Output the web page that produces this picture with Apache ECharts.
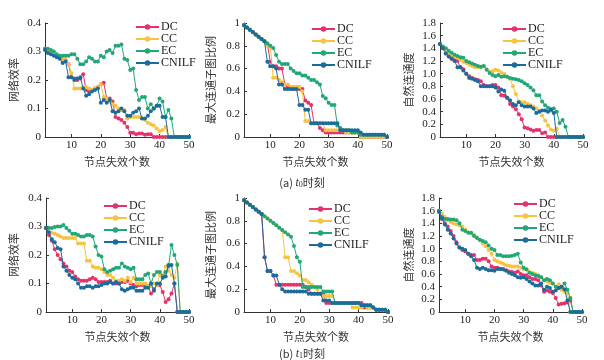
<!DOCTYPE html>
<html><head><meta charset="utf-8">
<script src="https://cdn.jsdelivr.net/npm/echarts@6/dist/echarts.min.js"></script>
<style>html,body{margin:0;padding:0;background:#fff}#c{width:604px;height:360px}</style>
</head><body><div id="c"></div>
<script>
const nodes = [1,2,3,4,5,6,7,8,9,10,11,12,13,14,15,16,17,18,19,20,21,22,23,24,25,26,27,28,29,30,31,32,33,34,35,36,37,38,39,40,41,42,43,44,45,46,47,48,49,50];
const xTicks = [10,20,30,40,50];
const seriesNames = ['DC','CC','EC','CNILF'];
const yNames = ['网络效率','最大连通子图比例','自然连通度','网络效率','最大连通子图比例','自然连通度'];
const captions = ['(a) {i|t}{s|0}时刻','(b) {i|t}{s|1}时刻'];

// (a) t0 — network efficiency
const dc1 = [0.31,0.30,0.295,0.29,0.285,0.28,0.275,0.27,0.255,0.21, 0.205,0.20,0.205,0.22,0.165,0.16,0.165,0.17,0.175,0.185, 0.19,0.135,0.135,0.125,0.07,0.065,0.06,0.05,0.035,0.015, 0.015,0.01,0.012,0.012,0.008,0.01,0.01,0,0,0, 0,0,0,0,0,0,0,0,0,0];
const cc1 = [0.31,0.30,0.295,0.29,0.285,0.28,0.275,0.27,0.255,0.225, 0.17,0.17,0.17,0.175,0.175,0.17,0.165,0.17,0.175,0.185, 0.14,0.135,0.125,0.115,0.11,0.10,0.095,0.095,0.065,0.07, 0.07,0.07,0.07,0.065,0.06,0.05,0.045,0.04,0.03,0.02, 0.025,0.035,0,0,0,0,0,0,0,0];
const ec1 = [0.31,0.31,0.305,0.30,0.29,0.285,0.285,0.285,0.285,0.29, 0.29,0.275,0.255,0.255,0.265,0.28,0.275,0.265,0.265,0.285, 0.28,0.30,0.305,0.295,0.32,0.32,0.325,0.275,0.27,0.235, 0.24,0.165,0.13,0.14,0.14,0.10,0.115,0.10,0.11,0.135, 0.125,0.07,0.095,0.065,0,0,0,0,0,0];
const cn1 = [0.305,0.295,0.29,0.285,0.28,0.275,0.26,0.265,0.21,0.21, 0.20,0.205,0.21,0.17,0.145,0.15,0.16,0.165,0.17,0.12, 0.13,0.12,0.13,0.09,0.085,0.09,0.10,0.09,0.075,0.075, 0.085,0.09,0.10,0.065,0.065,0.075,0.09,0.10,0.11,0.11, 0.07,0.07,0,0,0,0,0,0,0,0];
// (a) t0 — largest connected component ratio
const dc2 = [0.98,0.96,0.94,0.92,0.90,0.88,0.86,0.84,0.82,0.66, 0.62,0.62,0.60,0.60,0.46,0.44,0.42,0.42,0.42,0.42, 0.42,0.32,0.30,0.28,0.12,0.12,0.08,0.06,0.04,0.04, 0.04,0.04,0.04,0.04,0.04,0.04,0.04,0.04,0.04,0.04, 0,0,0,0,0,0,0,0,0,0];
const cc2 = [0.98,0.96,0.94,0.92,0.90,0.88,0.86,0.84,0.80,0.80, 0.52,0.52,0.50,0.48,0.46,0.46,0.44,0.44,0.44,0.44, 0.40,0.14,0.14,0.12,0.12,0.12,0.12,0.12,0.06,0.06, 0.06,0.06,0.06,0.06,0.06,0.04,0.04,0.04,0.04,0.04, 0,0,0,0,0,0,0,0,0,0];
const ec2 = [0.98,0.96,0.94,0.92,0.90,0.88,0.86,0.84,0.82,0.80, 0.78,0.72,0.66,0.64,0.64,0.64,0.60,0.58,0.56,0.56, 0.54,0.54,0.52,0.50,0.50,0.48,0.46,0.36,0.34,0.30, 0.28,0.28,0.10,0.08,0.06,0.06,0.06,0.04,0.04,0.04, 0.02,0.02,0.02,0.02,0.02,0.02,0.02,0.02,0.02,0];
const cn2 = [0.98,0.96,0.94,0.92,0.90,0.88,0.86,0.84,0.66,0.62, 0.62,0.60,0.46,0.46,0.42,0.42,0.42,0.42,0.42,0.28, 0.28,0.24,0.24,0.12,0.12,0.12,0.12,0.12,0.12,0.12, 0.12,0.12,0.12,0.06,0.06,0.06,0.06,0.06,0.06,0.06, 0.04,0.02,0.02,0.02,0.02,0.02,0.02,0.02,0.02,0];
// (a) t0 — natural connectivity
const dc3 = [1.47,1.40,1.32,1.27,1.23,1.21,1.20,1.10,1.07,1.00, 0.96,0.93,0.91,0.90,0.88,0.82,0.80,0.80,0.82,0.82, 0.78,0.66,0.65,0.62,0.52,0.48,0.44,0.36,0.28,0.15, 0.14,0.12,0.10,0.11,0.11,0.06,0.07,0,0,0, 0,0,0,0,0,0,0,0,0,0];
const cc3 = [1.47,1.41,1.36,1.32,1.29,1.27,1.25,1.22,1.19,1.17, 1.14,1.12,1.10,1.10,1.10,1.12,1.07,1.03,1.04,1.06, 1.05,1.02,1.00,0.95,0.92,0.80,0.68,0.56,0.55,0.55, 0.52,0.50,0.48,0.45,0.42,0.34,0.26,0.18,0.12,0.10, 0.13,0,0,0,0,0,0,0,0,0];
const ec3 = [1.47,1.43,1.40,1.36,1.33,1.30,1.28,1.26,1.25,1.20, 1.18,1.16,1.14,1.12,1.11,1.12,1.06,1.01,0.98,0.96, 0.98,0.95,0.96,0.95,0.93,0.92,0.91,0.90,0.88,0.85, 0.82,0.78,0.74,0.66,0.66,0.56,0.50,0.46,0.42,0.45, 0.40,0.22,0.27,0.16,0,0,0,0,0,0];
const cn3 = [1.47,1.40,1.32,1.27,1.24,1.20,1.10,1.10,1.05,1.00, 0.93,0.92,0.90,0.88,0.80,0.80,0.80,0.80,0.80,0.78, 0.72,0.75,0.73,0.62,0.58,0.52,0.50,0.55,0.50,0.48, 0.48,0.48,0.45,0.38,0.40,0.42,0.42,0.40,0.44,0.38, 0,0,0,0,0,0,0,0,0,0];
// (b) t1 — network efficiency
const dc4 = [0.295,0.27,0.25,0.22,0.20,0.185,0.17,0.16,0.145,0.14, 0.125,0.115,0.11,0.11,0.11,0.115,0.12,0.115,0.105,0.105, 0.105,0.105,0.11,0.10,0.10,0.10,0.105,0.105,0.11,0.10, 0.095,0.09,0.095,0.095,0.095,0.09,0.065,0.08,0.095,0.095, 0.07,0.035,0.045,0.065,0.10,0,0,0,0,0];
const cc4 = [0.295,0.28,0.278,0.275,0.27,0.265,0.26,0.26,0.26,0.26, 0.26,0.24,0.24,0.24,0.18,0.18,0.16,0.155,0.155,0.15, 0.14,0.13,0.13,0.12,0.11,0.11,0.115,0.11,0.12,0.105, 0.12,0.10,0.10,0.10,0.10,0.09,0.09,0.10,0.095,0.13, 0.13,0.16,0.145,0.13,0.12,0.17,0,0,0,0];
const ec4 = [0.295,0.295,0.295,0.298,0.30,0.30,0.305,0.295,0.285,0.275, 0.275,0.27,0.265,0.265,0.27,0.27,0.265,0.23,0.20,0.195, 0.15,0.14,0.145,0.15,0.155,0.155,0.17,0.16,0.155,0.15, 0.155,0.115,0.115,0.115,0.13,0.135,0.10,0.13,0.14,0.14, 0.125,0.14,0.16,0.235,0.20,0.165,0,0,0,0];
const cn4 = [0.295,0.28,0.255,0.245,0.225,0.22,0.16,0.145,0.13,0.12, 0.115,0.10,0.085,0.085,0.09,0.09,0.085,0.09,0.09,0.095, 0.10,0.10,0.105,0.10,0.105,0.10,0.08,0.075,0.08,0.085, 0.085,0.075,0.075,0.075,0.085,0.085,0.10,0.075,0.10,0.10, 0.12,0.125,0.165,0.165,0.10,0,0,0,0,0];
// (b) t1 — largest connected component ratio
const dc5 = [0.98,0.96,0.94,0.92,0.90,0.88,0.86,0.48,0.36,0.36, 0.32,0.24,0.24,0.24,0.24,0.24,0.24,0.24,0.24,0.24, 0.24,0.22,0.20,0.16,0.16,0.16,0.16,0.16,0.08,0.08, 0.08,0.08,0.08,0.08,0.08,0.08,0.08,0.08,0.08,0.08, 0.08,0.04,0.04,0.04,0.04,0.02,0.02,0.02,0.02,0];
const cc5 = [0.98,0.96,0.94,0.92,0.90,0.88,0.86,0.84,0.82,0.80, 0.78,0.76,0.74,0.72,0.48,0.48,0.36,0.36,0.34,0.32, 0.28,0.28,0.26,0.24,0.22,0.20,0.16,0.14,0.14,0.14, 0.14,0.08,0.08,0.08,0.08,0.08,0.08,0.04,0.04,0.04, 0.04,0.06,0.04,0.04,0.04,0.02,0.02,0.02,0.02,0];
const ec5 = [0.98,0.96,0.94,0.92,0.90,0.88,0.86,0.84,0.82,0.80, 0.78,0.76,0.74,0.72,0.70,0.68,0.66,0.58,0.48,0.44, 0.22,0.22,0.22,0.22,0.22,0.22,0.22,0.18,0.18,0.18, 0.18,0.08,0.08,0.08,0.08,0.08,0.08,0.08,0.08,0.08, 0.06,0.06,0.06,0.06,0.04,0.02,0.02,0.02,0.02,0];
const cn5 = [0.98,0.96,0.94,0.92,0.90,0.88,0.86,0.48,0.36,0.36, 0.32,0.32,0.24,0.20,0.18,0.18,0.18,0.18,0.18,0.18, 0.18,0.18,0.16,0.16,0.16,0.16,0.16,0.10,0.10,0.10, 0.08,0.08,0.08,0.08,0.08,0.08,0.08,0.08,0.08,0.08, 0.06,0.06,0.06,0.06,0.04,0.02,0.02,0.02,0.02,0];
// (b) t1 — natural connectivity
const dc6 = [1.60,1.47,1.40,1.35,1.28,1.20,1.10,1.02,0.98,0.96, 0.92,0.90,0.90,0.82,0.82,0.84,0.84,0.80,0.72,0.70, 0.70,0.68,0.68,0.66,0.64,0.63,0.62,0.64,0.60,0.58, 0.58,0.55,0.52,0.52,0.50,0.42,0.32,0.34,0.32,0.30, 0.22,0.12,0.13,0.14,0.15,0.18,0,0,0,0];
const cc6 = [1.60,1.55,1.50,1.45,1.42,1.40,1.38,1.37,1.35,1.30, 1.26,1.24,1.22,1.18,1.13,1.08,1.04,0.98,0.92,0.82, 0.80,0.78,0.76,0.74,0.73,0.72,0.72,0.72,0.70,0.68, 0.68,0.63,0.62,0.60,0.58,0.55,0.50,0.48,0.46,0.45, 0.40,0.44,0.35,0.32,0.30,0,0,0,0,0];
const ec6 = [1.60,1.50,1.47,1.47,1.46,1.46,1.45,1.40,1.30,1.28, 1.25,1.25,1.20,1.17,1.14,1.12,1.10,1.05,1.00,0.98, 0.90,0.90,0.88,0.88,0.88,0.89,0.90,0.92,0.78,0.70, 0.67,0.62,0.60,0.58,0.57,0.55,0.50,0.52,0.50,0.45, 0.40,0.38,0.40,0.45,0.35,0.22,0,0,0,0];
const cn6 = [1.58,1.48,1.38,1.30,1.24,1.16,1.08,1.02,1.00,0.98, 0.92,0.88,0.82,0.70,0.68,0.70,0.68,0.66,0.66,0.65, 0.68,0.68,0.67,0.65,0.62,0.60,0.58,0.55,0.54,0.55, 0.52,0.48,0.45,0.42,0.42,0.45,0.35,0.40,0.38,0.32, 0.34,0.38,0.40,0.36,0.18,0,0,0,0,0];

const panels = [[dc1,cc1,ec1,cn1],[dc2,cc2,ec2,cn2],[dc3,cc3,ec3,cn3],[dc4,cc4,ec4,cn4],[dc5,cc5,ec5,cn5],[dc6,cc6,ec6,cn6]];
const colors = ['#e5326b','#f6c343','#22a877','#1b6c9c'];

const grids = [
  {left:45, top:23, width:144, height:114},
  {left:244, top:23, width:143, height:114},
  {left:440, top:23, width:143, height:114},
  {left:46, top:198, width:143, height:114},
  {left:244, top:198, width:144, height:114},
  {left:439, top:198, width:143, height:114}
];
const yMax = [0.4,1,1.8,0.4,1,1.8];
const yInt = [0.1,0.2,0.2,0.1,0.2,0.2];
const yGap = [26,28,26,27,28,25];
const legendPos = [[135,21],[311,23],[502,23],[103,200],[308,203],[513,198]];

const serif = 'Liberation Serif';
const cjk = 'Noto Sans CJK SC';
const axisColor = '#333';

const option = {
  animation:false,
  backgroundColor:'#fff',
  grid: grids.map(g=>Object.assign({containLabel:false}, g)),
  xAxis: grids.map((g,i)=>({
    gridIndex:i, type:'value', min:1, max:50,
    axisLine:{lineStyle:{color:axisColor,width:1}},
    axisTick:{inside:true,length:3,customValues:xTicks,lineStyle:{color:axisColor}},
    axisLabel:{customValues:xTicks,fontFamily:serif,fontSize:11,color:'#222',margin:3},
    splitLine:{show:false},
    name:'节点失效个数', nameLocation:'middle', nameGap:19,
    nameTextStyle:{fontFamily:cjk,fontSize:11,color:'#333'}
  })),
  yAxis: grids.map((g,i)=>({
    gridIndex:i, type:'value', min:0, max:yMax[i], interval:yInt[i],
    axisLine:{show:true,lineStyle:{color:axisColor,width:1}},
    axisTick:{show:true,inside:true,length:3,lineStyle:{color:axisColor}},
    axisLabel:{fontFamily:serif,fontSize:11,color:'#222',margin:4,
      formatter:v=>{ if(Math.abs(v)<1e-9) return '0'; if(yMax[i]===1 && Math.abs(v-1)<1e-9) return '1'; return v.toFixed(1);} },
    splitLine:{show:false},
    name:yNames[i], nameLocation:'middle', nameGap:yGap[i],
    nameTextStyle:{fontFamily:cjk,fontSize:11,color:'#333'}
  })),
  legend: legendPos.map(p=>({
    left:p[0], top:p[1], padding:0, orient:'vertical', itemGap:0, itemWidth:23, itemHeight:7,
    data:seriesNames,
    textStyle:{fontFamily:serif,fontSize:12,color:'#222',lineHeight:11,padding:[0,0,0,-3]}
  })),
  title: captions.map((t,i)=>({
    text:t, left:'center', top: i===0 ? 171 : 342,
    textStyle:{fontFamily:cjk,fontSize:11,fontWeight:'normal',color:'#333',
      rich:{i:{fontFamily:serif,fontStyle:'italic',fontSize:12,color:'#333'},
            s:{fontFamily:serif,fontSize:8,color:'#333',padding:[5,0,0,0]}}}
  })),
  series: []
};
panels.forEach((arrs,pi)=>{
  arrs.forEach((arr,si)=>{
    option.series.push({
      type:'line', name:seriesNames[si], xAxisIndex:pi, yAxisIndex:pi,
      data: nodes.map((n,k)=>[n,arr[k]]),
      symbol:'circle', symbolSize:4, showSymbol:true,
      lineStyle:{width:1,color:colors[si]},
      itemStyle:{color:colors[si]},
      z: 2+si
    });
  });
});
const chart = echarts.init(document.getElementById('c'),null,{renderer:'canvas'});
chart.setOption(option);
</script></body></html>
